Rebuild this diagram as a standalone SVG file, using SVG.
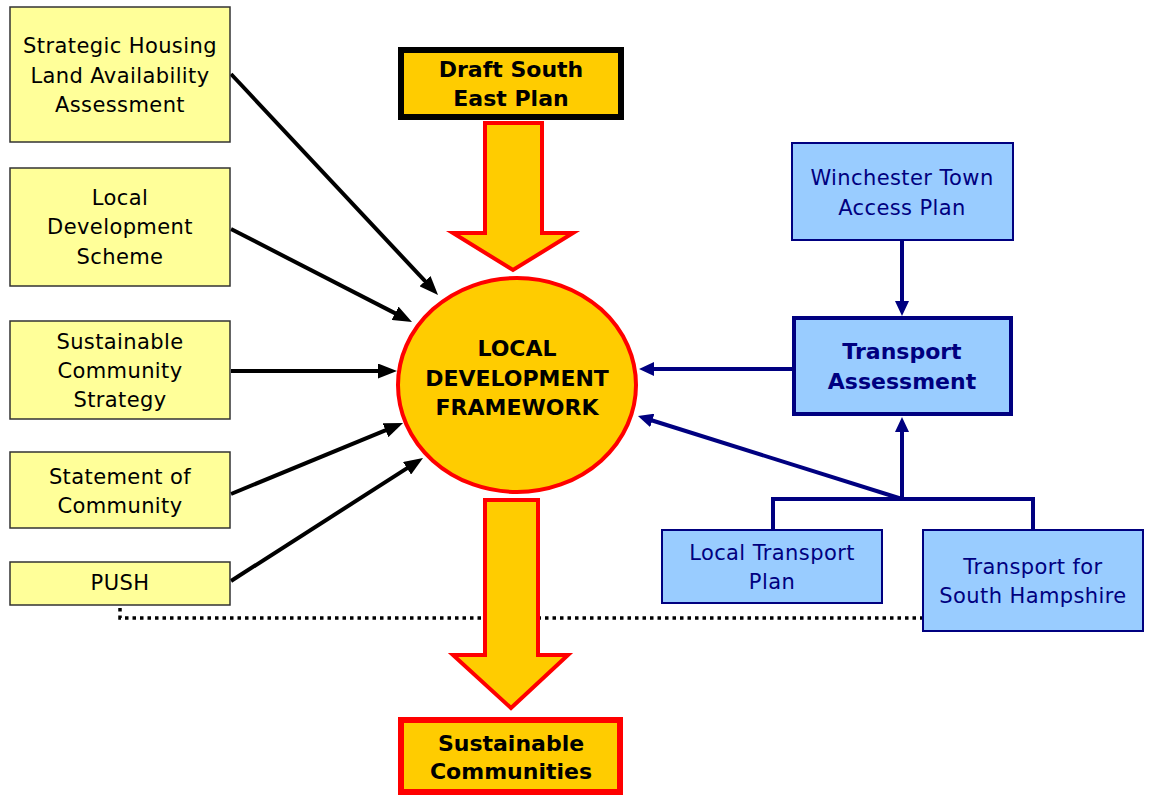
<svg xmlns="http://www.w3.org/2000/svg" width="1150" height="796" viewBox="0 0 1150 796">
<style>
.ybox{fill:#FFFF99;stroke:#333333;stroke-width:1.5}
.bbox{fill:#99CCFF;stroke:#000080;stroke-width:2}
.t{font-family:"DejaVu Sans","Liberation Sans",sans-serif;font-size:21px;letter-spacing:0.4px;text-anchor:middle;fill:#000000}
.tb{font-family:"DejaVu Sans","Liberation Sans",sans-serif;font-size:22px;font-weight:bold;text-anchor:middle;fill:#000000}
.navy{fill:#000080}
.blk{stroke:#000000;stroke-width:4;fill:none;marker-end:url(#ah)}
.blu{stroke:#000080;stroke-width:4;fill:none}
.big{fill:#FFCC00;stroke:#FF0000;stroke-width:4;stroke-linejoin:miter}
</style>
<defs>
<marker id="ah" markerUnits="userSpaceOnUse" markerWidth="19" markerHeight="15" refX="9" refY="7.5" orient="auto">
<path d="M0,0 L19,7.5 L0,15 z" fill="#000000"/>
</marker>
<marker id="bh" markerUnits="userSpaceOnUse" markerWidth="15" markerHeight="14" refX="5" refY="7" orient="auto">
<path d="M0,0 L15,7 L0,14 z" fill="#000080"/>
</marker>
</defs>
<rect width="1150" height="796" fill="#FFFFFF"/>
<g id="connectors">
<path d="M120,608 V618 H922" fill="none" stroke="#000000" stroke-width="3.5" stroke-dasharray="3.5 4"/>
<line class="blk" x1="231" y1="74" x2="431.2" y2="287.7"/>
<line class="blk" x1="231" y1="229" x2="403.1" y2="317.4"/>
<line class="blk" x1="231" y1="371" x2="387" y2="371"/>
<line class="blk" x1="231" y1="494" x2="393.8" y2="426.8"/>
<line class="blk" x1="231" y1="581" x2="414.6" y2="463.4"/>
<line class="blu" x1="902" y1="240" x2="902" y2="306" marker-end="url(#bh)"/>
<line class="blu" x1="792" y1="369" x2="649" y2="369" marker-end="url(#bh)"/>
<line class="blu" x1="902" y1="499" x2="647.5" y2="419" marker-end="url(#bh)"/>
<line class="blu" x1="902" y1="499" x2="902" y2="427" marker-end="url(#bh)"/>
<polyline class="blu" points="773,530 773,499 1033,499 1033,530"/>
<polygon class="big" points="485,123 542,123 542,233 573,233 513,270 453,233 485,233"/>
<polygon class="big" points="485,500 538,500 538,655 568,655 511,708 453,655 485,655"/>
</g>
<g id="shlaa">
<rect class="ybox" x="10" y="7" width="220" height="135"/>
<text class="t" x="120" y="53">Strategic Housing</text>
<text class="t" x="120" y="83">Land Availability</text>
<text class="t" x="120" y="112">Assessment</text>
</g>
<g id="lds">
<rect class="ybox" x="10" y="168" width="220" height="118"/>
<text class="t" x="120" y="205">Local</text>
<text class="t" x="120" y="234">Development</text>
<text class="t" x="120" y="264">Scheme</text>
</g>
<g id="scs">
<rect class="ybox" x="10" y="321" width="220" height="98"/>
<text class="t" x="120" y="349">Sustainable</text>
<text class="t" x="120" y="378">Community</text>
<text class="t" x="120" y="407">Strategy</text>
</g>
<g id="soc">
<rect class="ybox" x="10" y="452" width="220" height="76"/>
<text class="t" x="120" y="484">Statement of</text>
<text class="t" x="120" y="513">Community</text>
</g>
<g id="push">
<rect class="ybox" x="10" y="562" width="220" height="43"/>
<text class="t" x="120" y="590">PUSH</text>
</g>
<g id="draft">
<rect x="401" y="50" width="220" height="67" fill="#FFCC00" stroke="#000000" stroke-width="6"/>
<text class="tb" x="511" y="77">Draft South</text>
<text class="tb" x="511" y="106">East Plan</text>
</g>
<g id="ldf">
<ellipse cx="517" cy="385" rx="119" ry="107" fill="#FFCC00" stroke="#FF0000" stroke-width="4"/>
<text class="tb" x="517" y="356">LOCAL</text>
<text class="tb" x="517" y="386">DEVELOPMENT</text>
<text class="tb" x="517" y="415">FRAMEWORK</text>
</g>
<g id="sc">
<rect x="401" y="720" width="219" height="72" fill="#FFCC00" stroke="#FF0000" stroke-width="6"/>
<text class="tb" x="511" y="751">Sustainable</text>
<text class="tb" x="511" y="779">Communities</text>
</g>
<g id="wtap">
<rect class="bbox" x="792" y="143" width="221" height="97"/>
<text class="t navy" x="902" y="185">Winchester Town</text>
<text class="t navy" x="902" y="215">Access Plan</text>
</g>
<g id="ta">
<rect x="794" y="318" width="217" height="96" fill="#99CCFF" stroke="#000080" stroke-width="4"/>
<text class="tb navy" x="902" y="359">Transport</text>
<text class="tb navy" x="902" y="389">Assessment</text>
</g>
<g id="ltp">
<rect class="bbox" x="662" y="530" width="220" height="73"/>
<text class="t navy" x="772" y="560">Local Transport</text>
<text class="t navy" x="772" y="589">Plan</text>
</g>
<g id="tsh">
<rect class="bbox" x="923" y="530" width="220" height="101"/>
<text class="t navy" x="1033" y="574">Transport for</text>
<text class="t navy" x="1033" y="603">South Hampshire</text>
</g>
</svg>
